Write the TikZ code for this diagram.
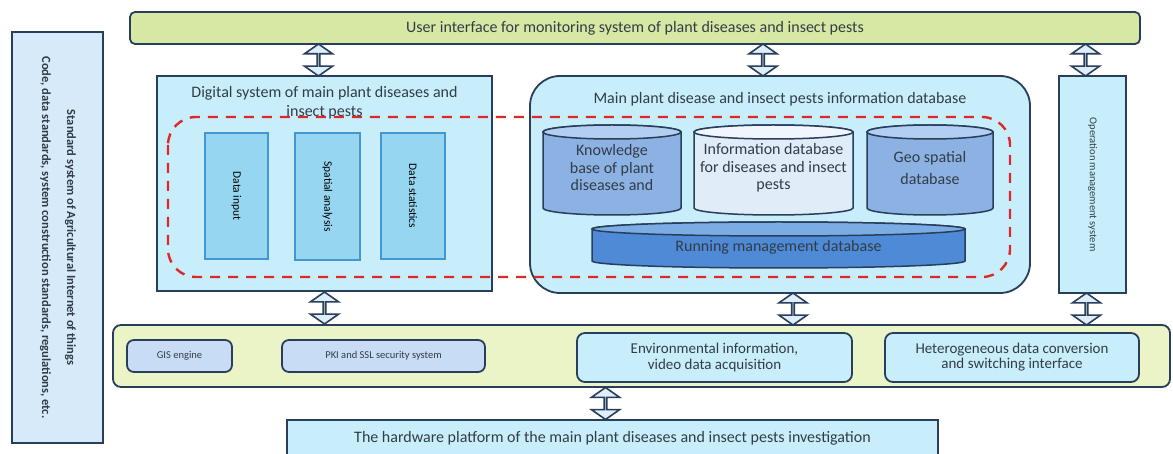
\documentclass[tikz,border=0pt]{standalone}
\usepackage{fontspec}
\setmainfont{Carlito}
\usetikzlibrary{shapes.arrows}

\definecolor{uigreen}{RGB}{214,232,164}
\definecolor{botgreen}{RGB}{234,244,198}
\definecolor{lightcyan}{RGB}{200,238,252}
\definecolor{stdblue}{RGB}{214,234,250}
\definecolor{midblue}{RGB}{150,214,240}
\definecolor{midedge}{RGB}{66,150,210}
\definecolor{kbblue}{RGB}{140,178,228}
\definecolor{kbtop}{RGB}{178,206,240}
\definecolor{infofill}{RGB}{224,236,248}
\definecolor{infotop}{RGB}{240,246,252}
\definecolor{runblue}{RGB}{78,138,214}
\definecolor{runtop}{RGB}{124,172,228}
\definecolor{lavblue}{RGB}{200,220,246}
\definecolor{edge}{RGB}{40,62,90}
\definecolor{txt}{RGB}{50,60,70}
\definecolor{dashred}{RGB}{222,40,40}
\definecolor{arrfill}{RGB}{222,238,250}

\newcommand\mybox[7]{\node[#6, minimum width=#4, minimum height=#5] (#1) at ({#2+#4/2},{#3+#5/2}) {#7};}
\newcommand\mycyl[8]{
    \fill[#7] ({#2+#4/2},{#3+7}) ellipse[x radius=#4/2, y radius=7];
    \draw[cyl, fill=#6] (#2,{#3+7}) -- (#2,{#3+#5-7}) arc[start angle=180, end angle=0, x radius=#4/2, y radius=7]
        -- ({#2+#4},{#3+7}) arc[start angle=0, end angle=-180, x radius=#4/2, y radius=7] -- cycle;
    \draw[cyl, fill=#7] ({#2+#4/2},{#3+7}) ellipse[x radius=#4/2, y radius=7];
    \node[align=center, text=txt, inner sep=0] (#1) at ({#2+#4/2},{#3+#5/2+7-#5/10}) {#8};
}
\newcommand\updown[2]{\path (#1) -- (#2) node[midway, dblarr] {};}

\begin{document}
\begin{tikzpicture}[x=1pt, y=1pt, yscale=-1,
    font=\fontsize{16}{17.5}\selectfont,
    box/.style={draw=edge, line width=1.8, text=txt, align=center, inner sep=2},
    inbox/.style={draw=midedge, fill=midblue, line width=1.5, inner sep=0, font=\fontsize{11.5}{13}\selectfont},
    small/.style={font=\fontsize{10.5}{12}\selectfont},
    cyl/.style={draw=edge, line width=1.5},
    reddash/.style={draw=dashred, line width=2.4, dash pattern=on 10pt off 8pt},
    dblarr/.style={double arrow, draw=edge, fill=arrfill, line width=1.6, rotate=90,
        minimum width=28, minimum height=32, double arrow head extend=8,
        double arrow tip angle=110, inner sep=0}]
    \useasboundingbox (0,0) rectangle (1173,454);

    % top and left
    \mybox{ui}{130}{12}{1010}{32}{box, fill=uigreen, rounded corners=5}{User interface for monitoring system of plant diseases and insect pests}
    \mybox{std}{12}{32}{91}{411}{box, fill=stdblue, line width=2.4, font=\fontsize{12.5}{14}\selectfont\bfseries}{\rotatebox{-90}{\begin{tabular}{@{}c@{}}Standard system of Agricultural Internet of things\\[11pt]Code, data standards, system construction standards, regulations, etc.\end{tabular}}}

    % middle row
    \mybox{dig}{157}{76}{335}{215}{box, fill=lightcyan}{}
    \node[text=txt, align=center, anchor=north] (digtitle) at ([yshift=8]dig.north) {Digital system of main plant diseases and\\[1.5pt]insect pests};
    \mybox{db}{530}{76}{500}{217}{box, fill=lightcyan, rounded corners=30}{}
    \node[text=txt, anchor=north] (dbtitle) at ([yshift=14]db.north) {Main plant disease and insect pests information database};
    \mybox{op}{1059}{76}{67}{217}{box, fill=lightcyan, small}{\rotatebox{-90}{Operation management system}}

    % red frame
    \draw[reddash, rounded corners=28] (168,117) rectangle (1010,277);

    % digital system parts
    \mybox{input}{205}{133}{63}{126}{inbox}{\rotatebox{-90}{Data input}}
    \mybox{spatial}{295}{133}{65}{127}{inbox}{\rotatebox{-90}{Spatial analysis}}
    \mybox{stats}{381}{133}{64}{126}{inbox}{\rotatebox{-90}{Data statistics}}

    % databases
    \mycyl{kb}{543}{125}{138}{90}{kbblue}{kbtop}{Knowledge\\base of plant\\diseases and}
    \mycyl{info}{694}{125}{159}{90}{infofill}{infotop}{Information database\\for diseases and insect\\pests}
    \mycyl{geo}{867}{125}{126}{90}{kbblue}{kbtop}{Geo spatial\\[4pt]database}
    \mycyl{run}{592}{222}{373}{46}{runblue}{runtop}{Running management database}

    % bottom row
    \mybox{bot}{113}{325}{1057}{62}{box, fill=botgreen, rounded corners=8}{}
    \mybox{gis}{127}{340}{105}{32}{box, fill=lavblue, rounded corners=7, small}{GIS engine}
    \mybox{pki}{282}{340}{203}{32}{box, fill=lavblue, rounded corners=7, small}{PKI and SSL security system}
    \mybox{env}{577}{333}{275}{49}{box, fill=lightcyan, rounded corners=8, font=\fontsize{15}{16}\selectfont}{Environmental information,\\video data acquisition}
    \mybox{het}{885}{333}{254}{49}{box, fill=lightcyan, rounded corners=8, font=\fontsize{15}{15}\selectfont}{Heterogeneous data conversion\\and switching interface}
    \mybox{hw}{287}{420}{651}{36}{box, fill=lightcyan}{The hardware platform of the main plant diseases and insect pests investigation}

    % block arrows
    \updown{[xshift=-6]ui.south -| dig.north}{[xshift=-6]dig.north}
    \updown{[xshift=-17]ui.south -| db.north}{[xshift=-17]db.north}
    \updown{[xshift=-7]ui.south -| op.north}{[xshift=-7]op.north}
    \updown{dig.south}{dig.south |- bot.north}
    \updown{[xshift=13]db.south}{[xshift=13]db.south |- bot.north}
    \updown{[xshift=-6]op.south}{[xshift=-6]op.south |- bot.north}
    \updown{[xshift=-7]bot.south -| hw.north}{[xshift=-7]hw.north}
\end{tikzpicture}
\end{document}
